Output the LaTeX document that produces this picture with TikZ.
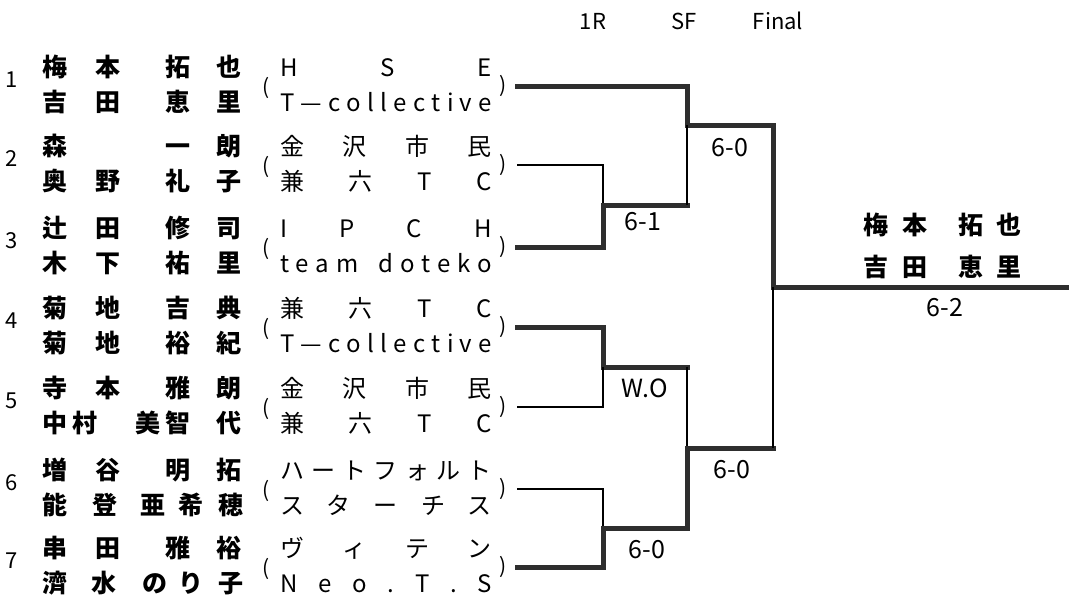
\documentclass[tikz,border=0pt]{standalone}
\usepackage{fontspec}
\setmainfont{Noto Sans CJK JP}
\tikzset{
  jp/.style={font=\fontsize{25}{25}\selectfont\bfseries, inner sep=0pt, anchor=base},
  team/.style={font=\fontsize{24}{24}\selectfont, inner sep=0pt, anchor=base},
  num/.style={font=\fontsize{22}{22}\selectfont, inner sep=0pt},
  par/.style={font=\fontsize{21}{21}\selectfont, inner sep=0pt},
  score/.style={font=\fontsize{25}{25}\selectfont, inner sep=0pt},
  head/.style={font=\fontsize{22}{22}\selectfont, inner sep=0pt},
  thk/.style={line width=5pt, draw=black!82, line join=miter, line cap=rect},
  thn/.style={line width=1.6pt, draw=black}
}
\newcommand\entry[6]{%
  \node[num] (n#1) at (12,#2-6) {#1};
  \foreach \xx/\cc [count=\k] in {#3} {\node[jp] (a#1-\k) at (\xx,#2-10) {\cc};}
  \foreach \xx/\cc [count=\k] in {#4} {\node[jp] (b#1-\k) at (\xx,#2+25) {\cc};}
  \node[team] (t#1a) at (386,#2-10) {\hbox to 212pt{#5}};
  \node[team] (t#1b) at (386,#2+25) {\hbox to 212pt{#6}};
  \node[par] (lp#1) at (266,#2+2) {(};
  \node[par] (rp#1) at (503,#2) {)};
  \coordinate (e#1) at (517,#2);
}
\newcommand\colle{T\hfill —\hfill c\hfill o\hfill l\hfill l\hfill e\hfill c\hfill t\hfill i\hfill v\hfill e}
\begin{document}
\begin{tikzpicture}[x=1pt,y=-1pt]
\useasboundingbox[fill=white] (0,0) rectangle (1069,606);

% headers
\node[head] (h1) at (593,21) {1R};
\node[head] (h2) at (684,21) {SF};
\node[head] (h3) at (778,21) {Final};

% entries
\entry{1}{86}{55/梅,108/本,178/拓,229/也}{55/吉,108/田,178/恵,229/里}
  {H\hfill S\hfill E}{\colle}
\entry{2}{165}{55/森,178/一,229/朗}{55/奥,108/野,178/礼,229/子}
  {金\hfill 沢\hfill 市\hfill 民}{兼\hfill 六\hfill T\hfill C}
\entry{3}{247}{55/辻,108/田,178/修,229/司}{55/木,108/下,178/祐,229/里}
  {I\hfill P\hfill C\hfill H}{t\hfill e\hfill a\hfill m\hfill\hfill\hfill d\hfill o\hfill t\hfill e\hfill k\hfill o}
\entry{4}{327}{55/菊,108/地,178/吉,229/典}{55/菊,108/地,178/裕,229/紀}
  {兼\hfill 六\hfill T\hfill C}{\colle}
\entry{5}{407}{55/寺,108/本,178/雅,229/朗}{55/中,85/村,148/美,178/智,229/代}
  {金\hfill 沢\hfill 市\hfill 民}{兼\hfill 六\hfill T\hfill C}
\entry{6}{489}{55/増,108/谷,178/明,229/拓}{55/能,105/登,153/亜,191/希,231/穂}
  {ハ\hfill ー\hfill ト\hfill フ\hfill ォ\hfill ル\hfill ト}{ス\hfill タ\hfill ー\hfill チ\hfill ス}
\entry{7}{567}{55/串,108/田,178/雅,229/裕}{55/濟,104/水,155/の,191/り,231/子}
  {ヴ\hfill ィ\hfill テ\hfill ン}{N\hfill e\hfill o\hfill .\hfill T\hfill .\hfill S}

% bracket junctions
\coordinate (m1) at (603,205);
\coordinate (m2) at (603,367);
\coordinate (m3) at (603,528);
\coordinate (s1) at (687,125);
\coordinate (s1b) at (687,205);
\coordinate (s2a) at (687,367);
\coordinate (s3a) at (687,528);
\coordinate (s2) at (687,448);
\coordinate (f1) at (773,125);
\coordinate (f2) at (773,448);
\coordinate (fin) at (773,287);
\coordinate (out) at (1072,287);

% first round
\draw[thn] (e2) -| (m1);
\draw[thk] (e3) -| (m1) -- (s1b);
\draw[thk] (e4) -| (m2) -- (s2a);
\draw[thn] (e5) -| (m2);
\draw[thn] (e6) -| (m3);
\draw[thk] (e7) -| (m3) -- (s3a);
% semifinals
\draw[thk] (e1) -| (s1) -- (f1);
\draw[thn] (s1b) -- (s1);
\draw[thn] (s2a) -- (s2);
\draw[thk] (s3a) -- (s2) -- (f2);
% final
\draw[thk] (f1) -- (fin) -- (out);
\draw[thn] (f2) -- (fin);

% scores
\node[score] (r1) at (643,222) {6-1};
\node[score] (r2) at (645,388) {W.O};
\node[score] (r3) at (647,550) {6-0};
\node[score] (r4) at (730,148) {6-0};
\node[score] (r5) at (732,470) {6-0};
\node[score] (r6) at (945,308) {6-2};

% winner
\foreach \xx/\cc [count=\k] in {876/梅,915/本,971/拓,1009/也} {\node[jp] (w1-\k) at (\xx,234) {\cc};}
\foreach \xx/\cc [count=\k] in {876/吉,915/田,971/恵,1009/里} {\node[jp] (w2-\k) at (\xx,276) {\cc};}
\end{tikzpicture}
\end{document}
